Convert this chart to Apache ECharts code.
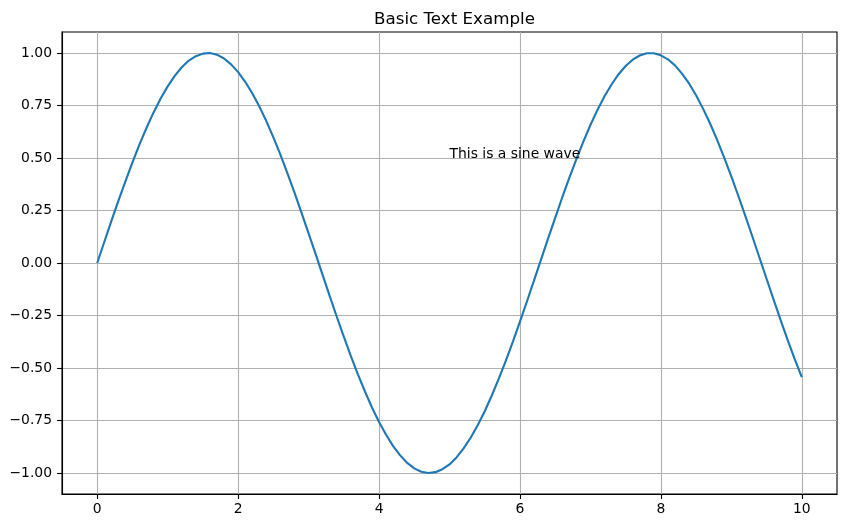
<!DOCTYPE html>
<html>
<head>
<meta charset="utf-8">
<script src="https://cdn.jsdelivr.net/npm/echarts@6/dist/echarts.min.js"></script>
<style>
html,body{margin:0;padding:0;background:#fff;}
#chart{width:847px;height:528px;}
</style>
</head>
<body>
<div id="chart"></div>
<script>
var xValues = [0.0,0.1,0.2,0.3,0.4,0.5,0.6,0.7,0.8,0.9,1.0,1.1,1.2,1.3,1.4,1.5,1.6,1.7,1.8,1.9,2.0,2.1,2.2,2.3,2.4,2.5,2.6,2.7,2.8,2.9,3.0,3.1,3.2,3.3,3.4,3.5,3.6,3.7,3.8,3.9,4.0,4.1,4.2,4.3,4.4,4.5,4.6,4.7,4.8,4.9,5.0,5.1,5.2,5.3,5.4,5.5,5.6,5.7,5.8,5.9,6.0,6.1,6.2,6.3,6.4,6.5,6.6,6.7,6.8,6.9,7.0,7.1,7.2,7.3,7.4,7.5,7.6,7.7,7.8,7.9,8.0,8.1,8.2,8.3,8.4,8.5,8.6,8.7,8.8,8.9,9.0,9.1,9.2,9.3,9.4,9.5,9.6,9.7,9.8,9.9,10.0];
var yValues = [0.000,0.100,0.199,0.296,0.389,0.479,0.565,0.644,0.717,0.783,0.841,0.891,0.932,0.964,0.985,0.997,1.000,0.992,0.974,0.946,0.909,0.863,0.808,0.746,0.676,0.598,0.516,0.427,0.335,0.239,0.141,0.042,-0.058,-0.158,-0.256,-0.351,-0.443,-0.530,-0.612,-0.688,-0.757,-0.818,-0.872,-0.916,-0.952,-0.978,-0.994,-1.000,-0.996,-0.982,-0.959,-0.926,-0.883,-0.832,-0.773,-0.706,-0.631,-0.551,-0.465,-0.374,-0.279,-0.182,-0.083,0.017,0.117,0.215,0.312,0.405,0.494,0.578,0.657,0.729,0.794,0.850,0.899,0.938,0.968,0.988,0.999,0.999,0.989,0.970,0.941,0.902,0.855,0.799,0.734,0.663,0.585,0.501,0.412,0.319,0.223,0.125,0.025,-0.075,-0.174,-0.272,-0.367,-0.458,-0.544];
var xTicks = [0,2,4,6,8,10];
var yTicks = [-1.00,-0.75,-0.50,-0.25,0.00,0.25,0.50,0.75,1.00];
var titleText = 'Basic Text Example';
var annotation = {x: 5, y: 0.5, text: 'This is a sine wave'};

var xMin = -0.5, xMax = 10.5, yMin = -1.1, yMax = 1.1;
var font = 'DejaVu Sans';
var lineData = xValues.map(function(x, i){ return [x, yValues[i]]; });

var chart = echarts.init(document.getElementById('chart'), null, {renderer:'canvas'});
chart.setOption({
  animation: false,
  backgroundColor: '#fff',
  title: {
    text: titleText,
    left: 449.5,
    top: 6,
    textAlign: 'center',
    textStyle: {fontFamily: font, fontSize: 16.7, fontWeight: 'normal', color: '#000'}
  },
  grid: {left: 62, right: 10, top: 32, bottom: 34, show: true, borderColor: '#000', borderWidth: 1.1, backgroundColor: 'transparent'},
  xAxis: {
    type: 'value', min: xMin, max: xMax, position: 'bottom',
    axisLine: {show: true, onZero: false, lineStyle: {color: '#000', width: 1.1}},
    axisTick: {show: true, inside: false, length: 5, lineStyle: {color: '#000', width: 1.1}, customValues: xTicks},
    axisLabel: {customValues: xTicks, fontFamily: font, fontSize: 13.9, color: '#000', margin: 8, formatter: function(v){ return String(v); }},
    splitLine: {show: true, lineStyle: {color: '#b0b0b0', width: 1.1}}
  },
  yAxis: {
    type: 'value', min: yMin, max: yMax, position: 'left',
    axisLine: {show: true, onZero: false, lineStyle: {color: '#000', width: 1.1}},
    axisTick: {show: true, inside: false, length: 5, lineStyle: {color: '#000', width: 1.1}, customValues: yTicks},
    axisLabel: {customValues: yTicks, fontFamily: font, fontSize: 13.9, color: '#000', margin: 10, formatter: function(v){ return v.toFixed(2).replace('-', '\u2212'); }},
    splitLine: {show: true, lineStyle: {color: '#b0b0b0', width: 1.1}}
  },
  series: [
    {
      type: 'line', data: lineData, showSymbol: false, symbol: 'none', smooth: false,
      lineStyle: {color: '#1f77b4', width: 2.1}, z: 3
    },
    {
      type: 'custom', clip: false, silent: true, z: 6,
      data: [[annotation.x, annotation.y]],
      renderItem: function(params, api){
        var p = api.coord([api.value(0), api.value(1)]);
        return {type: 'text', x: p[0], y: p[1] + 3.5,
          style: {text: annotation.text, fill: '#000', font: '13.9px "DejaVu Sans"', textAlign: 'left', textVerticalAlign: 'bottom', verticalAlign: 'bottom', align: 'left'}};
      }
    }
  ]
});
</script>
</body>
</html>
